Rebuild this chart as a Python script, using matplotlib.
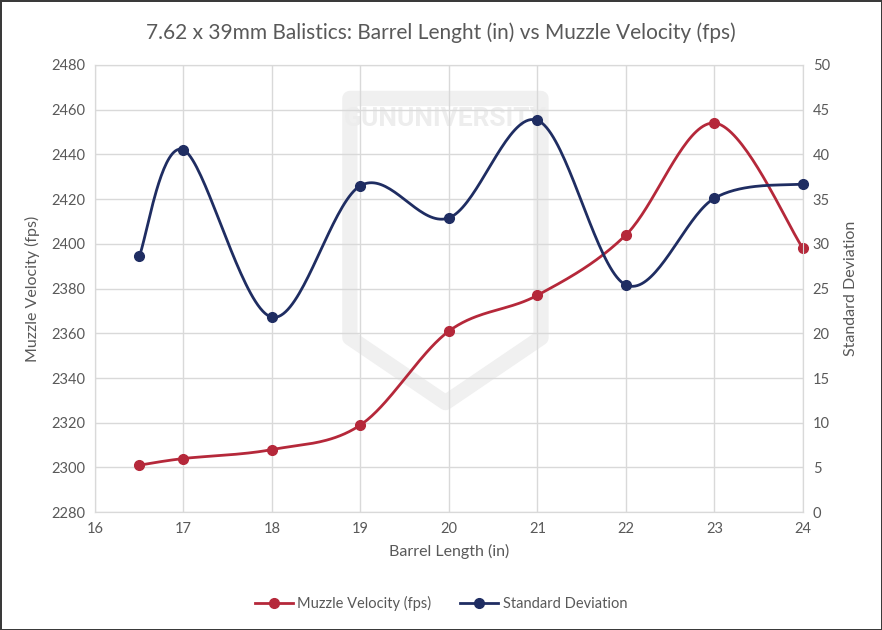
"""7.62x39 barrel length vs muzzle velocity / SD, Excel-style smoothed dual axis chart."""
import numpy as np
import matplotlib
matplotlib.use("Agg")
import matplotlib.pyplot as plt
from matplotlib.patches import Polygon

barrel_in = [16.5, 17, 18, 19, 20, 21, 22, 23, 24]
muzzle_fps = [2301, 2304, 2308, 2319, 2361, 2377, 2404, 2454, 2398]
std_dev = [28.6, 40.5, 21.8, 36.5, 32.9, 43.8, 25.4, 35.1, 36.7]

RED = "#B5283A"
NAVY = "#1F2D62"
GREY = "#595959"
plt.rcParams["font.family"] = ["Lato", "DejaVu Sans"]


def smooth(x, y, xr, yr, n=40):
    # catmull-rom -> bezier, done in axis-normalised space like Excel's smoothed line
    p = np.column_stack([np.asarray(x, float) / xr, np.asarray(y, float) / yr])
    p = np.vstack([p[0], p, p[-1]])
    out = []
    t = np.linspace(0, 1, n)[:, None]
    for i in range(1, len(p) - 2):
        p0, p1, p2, p3 = p[i - 1], p[i], p[i + 1], p[i + 2]
        c1 = p1 + (p2 - p0) / 6
        c2 = p2 - (p3 - p1) / 6
        seg = ((1 - t) ** 3) * p1 + 3 * ((1 - t) ** 2) * t * c1 + 3 * (1 - t) * t ** 2 * c2 + t ** 3 * p2
        out.append(seg if i == 1 else seg[1:])
    s = np.vstack(out)
    return s[:, 0] * xr, s[:, 1] * yr


fig = plt.figure(figsize=(8.82, 6.3), dpi=100)
fig.patch.set_edgecolor("#3a3a3a")
fig.patch.set_linewidth(2)
ax = fig.add_axes([0.1077, 0.187, 0.8027, 0.710])
ax2 = ax.twinx()

# faint watermark
shield = Polygon([(0.36, 0.925), (0.63, 0.925), (0.63, 0.39), (0.495, 0.245), (0.36, 0.39)],
                 closed=True, transform=ax.transAxes, fill=False, edgecolor="#f0f0f0", lw=11,
                 joinstyle="round", zorder=0.2)
ax.add_patch(shield)
ax.text(0.495, 0.88, "GUNUNIVERSITY", transform=ax.transAxes, ha="center", va="center",
        fontsize=19, fontweight="bold", color="#ededed", zorder=0.3, family=["Roboto", "DejaVu Sans"])

ax.set_axisbelow(True)
ax.grid(True, color="#d9d9d9", lw=1)
ax.set_xlim(16, 24)
ax.set_ylim(2280, 2480)
ax.set_xticks(range(16, 25))
ax.set_yticks(range(2280, 2481, 20))
ax2.set_ylim(0, 50)
ax2.set_yticks(range(0, 51, 5))

sx, sy = smooth(barrel_in, muzzle_fps, 8, 200)
ax.plot(sx, sy, color=RED, lw=2, zorder=3, clip_on=False)
ax.plot(barrel_in, muzzle_fps, "o", color=RED, ms=7, zorder=4, clip_on=False)
sx, sy = smooth(barrel_in, std_dev, 8, 50)
ax2.plot(sx, sy, color=NAVY, lw=2, zorder=3, clip_on=False)
ax2.plot(barrel_in, std_dev, "o", color=NAVY, ms=7, zorder=4, clip_on=False)

for a in (ax, ax2):
    for sp in a.spines.values():
        sp.set_color("#d9d9d9")
    a.tick_params(length=0, labelsize=10.5, labelcolor=GREY, pad=7)

ax.set_xlabel("Barrel Length (in)", fontsize=11.5, color=GREY, labelpad=6)
ax.set_ylabel("Muzzle Velocity (fps)", fontsize=11.5, color=GREY, labelpad=8)
ax2.set_ylabel("Standard Deviation", fontsize=11.5, color=GREY, labelpad=10)
fig.suptitle("7.62 x 39mm Balistics: Barrel Lenght (in) vs Muzzle Velocity (fps)",
             fontsize=15, color=GREY, y=0.965)

h1 = plt.Line2D([], [], color=RED, lw=2, marker="o", ms=7)
h2 = plt.Line2D([], [], color=NAVY, lw=2, marker="o", ms=7)
leg = fig.legend([h1, h2], ["Muzzle Velocity (fps)", "Standard Deviation"], loc="center",
                 bbox_to_anchor=(0.5, 0.042), ncol=2, frameon=False, fontsize=10.5,
                 handlelength=2.6, columnspacing=2.0, handletextpad=0.3)
for t in leg.get_texts():
    t.set_color(GREY)

fig.savefig("out.png", dpi=100)
